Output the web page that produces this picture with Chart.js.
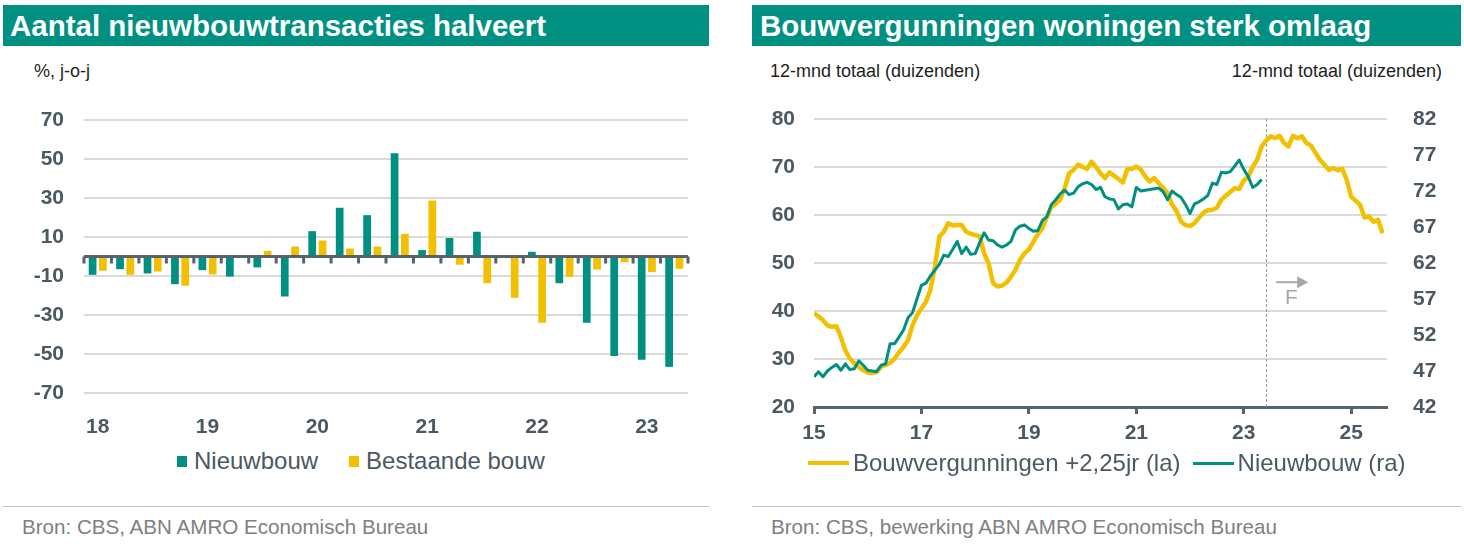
<!DOCTYPE html>
<html lang="nl">
<head>
<meta charset="utf-8">
<title>Nieuwbouwtransacties en bouwvergunningen</title>
<script src="https://cdn.jsdelivr.net/npm/chart.js@4.4.0/dist/chart.umd.min.js"></script>
<style>
  html, body { margin: 0; padding: 0; background: #fff; }
  body { width: 1464px; height: 550px; position: relative; overflow: hidden;
         font-family: 'Liberation Sans', Arial, sans-serif; }
  .band { position: absolute; top: 5px; height: 41px; background: #009082; color: #fff;
          font-weight: bold; font-size: 29.5px; line-height: 41px; white-space: nowrap; box-sizing: border-box; }
  .sub { position: absolute; top: 60px; font-size: 18px; line-height: 22px; color: #1e1e1e; white-space: nowrap; }
  .plot { position: absolute; top: 85px; }
  .legend { position: absolute; display: flex; align-items: center; font-size: 24px; line-height: 28px;
            color: #4b5961; white-space: nowrap; }
  .legend .sq { display: inline-block; width: 10px; height: 11px; margin-right: 7px; }
  .legend .ln { display: inline-block; width: 41px; margin-right: 4px; }
  .rule { position: absolute; top: 506px; height: 1px; background: #c3c3c3; }
  .src { position: absolute; top: 515px; font-size: 20.6px; line-height: 24px; color: #808080; white-space: nowrap; }
</style>
</head>
<body>

<div class="band" style="left:3px;width:706px;padding-left:7px;">Aantal nieuwbouwtransacties halveert</div>
<div class="sub" style="left:34px;">%, j-o-j</div>
<canvas id="bars" class="plot" style="left:3px;" width="706" height="355"></canvas>
<div id="legend-left" class="legend" style="left:177px;top:447px;"></div>
<div class="rule" style="left:3px;width:706px;"></div>
<div class="src" style="left:22px;">Bron: CBS, ABN AMRO Economisch Bureau</div>

<div class="band" style="left:752px;width:709px;padding-left:8px;">Bouwvergunningen woningen sterk omlaag</div>
<div class="sub" style="left:770px;">12-mnd totaal (duizenden)</div>
<div class="sub" style="right:22px;">12-mnd totaal (duizenden)</div>
<canvas id="lines" class="plot" style="left:752px;" width="709" height="365"></canvas>
<div id="legend-right" class="legend" style="left:808px;top:449px;"></div>
<div class="rule" style="left:752px;width:709px;"></div>
<div class="src" style="left:771px;">Bron: CBS, bewerking ABN AMRO Economisch Bureau</div>

<script>
'use strict';

/* ── Links: transacties per kwartaal, % j-o-j ── */
const quarters = [
  '18 K1', '18 K2', '18 K3', '18 K4',
  '19 K1', '19 K2', '19 K3', '19 K4',
  '20 K1', '20 K2', '20 K3', '20 K4',
  '21 K1', '21 K2', '21 K3', '21 K4',
  '22 K1', '22 K2', '22 K3', '22 K4',
  '23 K1', '23 K2'
];
const nieuwbouwYoY = [
  -9.4, -6.5, -8.7, -14.2,
  -7.0, -10.3, -5.6, -20.5,
  13.0, 25.0, 21.2, 53.0,
  3.3, 9.5, 12.7, 0,
  2.4, -13.7, -34.0, -51.0,
  -53.0, -56.6
];
const bestaandYoY = [
  -7.3, -9.4, -7.7, -15.0,
  -9.2, 0, 2.9, 5.1,
  8.2, 4.1, 5.1, 11.6,
  28.7, -4.2, -13.7, -21.2,
  -34.0, -10.4, -6.7, -2.9,
  -8.0, -6.3
];

/* ── Rechts: 12-mnd totaal (duizenden), maandreeksen vanaf jan 2015 ── */
const startYear = 2015;
const vergunningen = [
  39.5, 38.9, 38.1, 37.0, 36.7, 36.8, 34.6, 31.8, 30.1, 29.1, 28.3, 27.7,
  27.2, 27.1, 27.3, 28.4, 28.8, 29.2, 30.1, 31.4, 32.5, 33.9, 37.0, 39.1,
  40.5, 41.9, 44.4, 49.2, 55.5, 56.5, 58.3, 57.8, 57.9, 57.9, 56.5, 56.1,
  55.8, 55.6, 52.0, 49.9, 45.8, 45.1, 45.3, 45.9, 47.1, 48.6, 50.6, 52.0,
  52.8, 54.4, 56.0, 57.2, 59.5, 61.6, 62.3, 63.2, 65.6, 68.7, 69.4, 70.5,
  70.0, 69.6, 71.1, 70.0, 68.7, 67.7, 68.9, 68.2, 67.5, 66.8, 69.6, 69.6,
  70.1, 69.5, 68.0, 67.0, 67.7, 66.6, 65.6, 64.6, 62.1, 60.8, 58.6, 57.9,
  57.7, 58.3, 59.4, 60.5, 61.0, 61.1, 61.5, 63.2, 64.0, 64.8, 65.6, 65.4,
  67.2, 68.0, 70.0, 71.5, 74.3, 75.5, 76.4, 76.0, 76.5, 75.0, 74.3, 76.5,
  76.0, 76.4, 75.0, 74.5, 73.0, 71.5, 70.5, 69.4, 69.8, 69.3, 69.6, 67.3,
  63.8, 63.0, 62.1, 59.5, 59.7, 58.6, 59.0, 56.2
];
const nieuwbouwTotaal = [
  46.2, 46.9, 46.2, 47.0, 47.5, 47.9, 47.1, 48.0, 47.2, 47.3, 48.4, 47.8,
  47.1, 47.0, 46.9, 47.8, 48.0, 50.8, 50.8, 51.7, 52.7, 54.4, 55.1, 57.0,
  58.9, 59.2, 60.2, 61.0, 61.8, 63.1, 62.9, 63.9, 65.0, 63.3, 64.2, 63.2,
  63.3, 64.8, 66.2, 65.2, 65.1, 64.5, 64.2, 64.5, 65.0, 66.6, 67.1, 67.3,
  66.8, 66.4, 66.5, 67.9, 68.4, 70.1, 70.8, 71.6, 72.1, 71.5, 71.7, 72.6,
  73.0, 73.2, 72.9, 72.2, 72.5, 71.2, 70.9, 70.8, 69.5, 70.1, 70.2, 69.8,
  72.5, 72.0, 72.1, 72.2, 72.3, 72.4, 71.9, 70.8, 72.0, 71.5, 71.1, 70.1,
  68.9, 70.2, 70.5, 70.9, 71.4, 73.1, 72.9, 74.6, 74.5, 74.7, 75.5, 76.3,
  75.0, 74.0, 72.5, 72.9, 73.6
];
const yearTicks = [2015, 2017, 2019, 2021, 2023, 2025];
const xEnd = 2025 + 8 / 12;
const forecastStart = 2023 + 5 / 12;
const arrowFrom = 2023.6, arrowTo = 2024.2, arrowLevel = 46;

/* ── Stijl ── */
const TEAL   = '#009082';
const YELLOW = '#f2c000';
const TEXT   = '#4b5961';
const AXIS   = '#56636b';
const GRID   = '#dadada';
const NOTE   = '#a8a8a8';
const tickFont = { size: 21, weight: 'bold' };

Chart.defaults.font.family = "'Liberation Sans', Arial, sans-serif";
Chart.defaults.color = TEXT;

/* ── HTML legends ── */
function renderLegend(id, items) {
  document.getElementById(id).innerHTML = items.map((it, i) => {
    const mark = it.line
      ? `<span class="ln" style="height:${it.line}px;background:${it.color};"></span>`
      : `<span class="sq" style="background:${it.color};"></span>`;
    return `<span style="display:flex;align-items:center;margin-left:${i ? it.gap : 0}px;">${mark}${it.label}</span>`;
  }).join('');
}

/* ── Zero line with quarter ticks (left chart) ── */
const zeroAxis = {
  id: 'zeroAxis',
  afterDatasetsDraw(chart) {
    const { ctx, chartArea: a, scales: { x, y } } = chart;
    const y0 = y.getPixelForValue(0);
    const step = x.getPixelForValue(1) - x.getPixelForValue(0);
    ctx.save();
    ctx.strokeStyle = AXIS;
    ctx.fillStyle = AXIS;
    ctx.lineWidth = 3;
    ctx.beginPath();
    ctx.moveTo(a.left, y0);
    ctx.lineTo(a.right, y0);
    ctx.stroke();
    for (let i = 0; i <= quarters.length; i++) {
      const px = x.getPixelForValue(0) - step / 2 + i * step;
      ctx.fillRect(px - 1.5, y0, 3, 7);
    }
    ctx.restore();
  }
};

/* ── Forecast marker (right chart) ── */
const forecastMark = {
  id: 'forecastMark',
  beforeDatasetsDraw(chart) {
    const { ctx, chartArea: a, scales: { x } } = chart;
    const px = Math.round(x.getPixelForValue(forecastStart)) + 0.5;
    ctx.save();
    ctx.strokeStyle = '#9c9c9c';
    ctx.lineWidth = 1;
    ctx.setLineDash([3, 2]);
    ctx.beginPath();
    ctx.moveTo(px, a.top);
    ctx.lineTo(px, a.bottom);
    ctx.stroke();
    ctx.restore();
  },
  afterDatasetsDraw(chart) {
    const { ctx, scales: { x, y } } = chart;
    const x1 = x.getPixelForValue(arrowFrom);
    const x2 = x.getPixelForValue(arrowTo);
    const py = y.getPixelForValue(arrowLevel);
    ctx.save();
    ctx.strokeStyle = NOTE;
    ctx.fillStyle = NOTE;
    ctx.lineWidth = 2;
    ctx.beginPath();
    ctx.moveTo(x1, py);
    ctx.lineTo(x2 - 10, py);
    ctx.stroke();
    ctx.beginPath();
    ctx.moveTo(x2, py);
    ctx.lineTo(x2 - 11, py - 6);
    ctx.lineTo(x2 - 11, py + 6);
    ctx.closePath();
    ctx.fill();
    ctx.font = "21px 'Liberation Sans', Arial, sans-serif";
    ctx.textBaseline = 'middle';
    ctx.fillText('F', x1 + 9, py + 16);
    ctx.restore();
  }
};

/* ── Left: bar chart ── */
function renderBars() {
  new Chart(document.getElementById('bars'), {
    type: 'bar',
    data: {
      labels: quarters,
      datasets: [
        { label: 'Nieuwbouw', data: nieuwbouwYoY, backgroundColor: TEAL,
          categoryPercentage: 0.75, barPercentage: 0.75 },
        { label: 'Bestaande bouw', data: bestaandYoY, backgroundColor: YELLOW,
          categoryPercentage: 0.75, barPercentage: 0.75 }
      ]
    },
    options: {
      responsive: false,
      animation: false,
      devicePixelRatio: 1,
      layout: { padding: { top: 35, right: 21, left: 0, bottom: 0 } },
      plugins: { legend: { display: false }, tooltip: { enabled: false } },
      scales: {
        x: {
          grid: { display: false },
          border: { display: false },
          ticks: {
            autoSkip: false, maxRotation: 0, padding: 14, color: TEXT, font: tickFont,
            callback: (v, i) => quarters[i].endsWith('K1') ? quarters[i].split(' ')[0] : ''
          },
          afterFit: s => { s.height = 47; }
        },
        y: {
          min: -70, max: 70,
          ticks: { stepSize: 20, padding: 20, color: TEXT, font: tickFont },
          grid: { color: GRID, lineWidth: 2, drawTicks: false },
          border: { display: false },
          afterFit: s => { s.width = 81; }
        }
      }
    },
    plugins: [zeroAxis]
  });

  renderLegend('legend-left', [
    { label: 'Nieuwbouw', color: TEAL },
    { label: 'Bestaande bouw', color: YELLOW, gap: 31 }
  ]);
}

/* ── Right: line chart, two axes ── */
function renderLines() {
  const monthly = vals => vals.map((v, i) => ({ x: startYear + i / 12, y: v }));

  new Chart(document.getElementById('lines'), {
    type: 'line',
    data: {
      datasets: [
        { label: 'Bouwvergunningen +2,25jr (la)', data: monthly(vergunningen), yAxisID: 'y',
          borderColor: YELLOW, borderWidth: 4.5, pointRadius: 0, tension: 0,
          borderJoinStyle: 'round', order: 2 },
        { label: 'Nieuwbouw (ra)', data: monthly(nieuwbouwTotaal), yAxisID: 'y2',
          borderColor: TEAL, borderWidth: 3, pointRadius: 0, tension: 0,
          borderJoinStyle: 'round', order: 1 }
      ]
    },
    options: {
      responsive: false,
      animation: false,
      devicePixelRatio: 1,
      layout: { padding: { top: 34, right: 0, left: 0, bottom: 0 } },
      plugins: { legend: { display: false }, tooltip: { enabled: false } },
      scales: {
        x: {
          type: 'linear', min: startYear, max: xEnd,
          afterBuildTicks: s => { s.ticks = yearTicks.map(v => ({ value: v })); },
          ticks: { padding: 7, color: TEXT, font: tickFont, callback: v => String(v).slice(2) },
          grid: { drawOnChartArea: false, drawTicks: true, tickLength: 7, tickWidth: 3, tickColor: AXIS },
          border: { display: true, color: AXIS, width: 3 },
          afterFit: s => { s.height = 43; }
        },
        y: {
          position: 'left', min: 20, max: 80,
          ticks: { stepSize: 10, padding: 19, color: TEXT, font: tickFont },
          grid: { color: GRID, lineWidth: 2, drawTicks: false },
          border: { display: false },
          afterFit: s => { s.width = 62; }
        },
        y2: {
          position: 'right', min: 42, max: 82,
          ticks: { stepSize: 5, padding: 18, color: TEXT, font: tickFont },
          grid: { display: false },
          border: { display: false },
          afterFit: s => { s.width = 74; }
        }
      }
    },
    plugins: [forecastMark]
  });

  renderLegend('legend-right', [
    { label: 'Bouwvergunningen +2,25jr (la)', color: YELLOW, line: 4 },
    { label: 'Nieuwbouw (ra)', color: TEAL, line: 3, gap: 12 }
  ]);
}

/* ── Init ── */
document.addEventListener('DOMContentLoaded', () => {
  renderBars();
  renderLines();
});
</script>
</body>
</html>
